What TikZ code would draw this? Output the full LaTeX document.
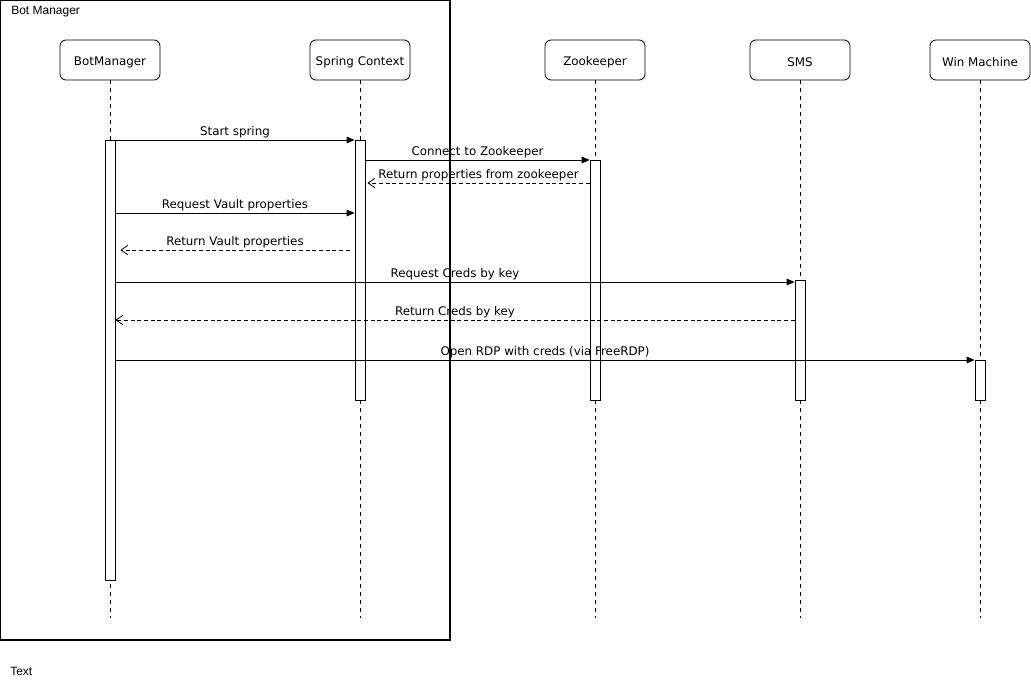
\documentclass[tikz,border=0pt]{standalone}
\usepackage{fontspec}
\setmainfont{DejaVu Sans}
\newfontfamily\arialfont{Liberation Sans}
\usetikzlibrary{arrows.meta}
\tikzset{
  x=0.75pt, y=-0.75pt,
  head/.style={draw, rounded corners=4.5pt, minimum width=75pt, minimum height=30pt, inner sep=0pt, line width=0.6pt},
  headtxt/.style={font=\fontsize{8.9}{10}\selectfont, inner sep=0pt},
  life/.style={dashed, dash pattern=on 3pt off 3pt, line width=0.6pt},
  act/.style={draw, fill=white, line width=0.6pt},
  msg/.style={-{Triangle[length=6pt,width=5pt]}, line width=0.6pt},
  ret/.style={-{Straight Barb[length=5pt,width=7pt]}, dashed, dash pattern=on 3pt off 2pt, line width=0.6pt},
  lbl/.style={font=\fontsize{8.9}{10}\selectfont, inner sep=1pt, above}
}
\begin{document}
\begin{tikzpicture}
\useasboundingbox (0,0) rectangle (1031,681);
\fill[white] (0,0) rectangle (1031,681);
% frame
\draw[line width=0.9pt] (0.6,0.6) rectangle (450,640);
\node[anchor=west, font=\arialfont\fontsize{9}{10}\selectfont, inner sep=0pt] (frame) at (11,12) {Bot Manager};
\node[anchor=west, font=\arialfont\fontsize{9}{10}\selectfont, inner sep=0pt] (txt) at (10,671) {Text};
% heads
\node[head] (bm) at (110,60) {};
\node[head] (sc) at (360,60) {};
\node[head] (zk) at (595,60) {};
\node[head] (sms) at (800,60) {};
\node[head] (win) at (980,60) {};
\node[headtxt] (bmT) at (110,62) {BotManager};
\node[headtxt] (scT) at (360,62) {Spring Context};
\node[headtxt] (zkT) at (595,62) {Zookeeper};
\node[headtxt] (smsT) at (800,62) {SMS};
\node[headtxt] (winT) at (980,62) {Win Machine};
% lifeline ends
\coordinate (bmE) at (110,618);
\coordinate (scE) at (360,618);
\coordinate (zkE) at (595,618);
\coordinate (smsE) at (800,618);
\coordinate (winE) at (980,618);
\draw[life] (bm.south) -- (bmE);
\draw[life] (sc.south) -- (scE);
\draw[life] (zk.south) -- (zkE);
\draw[life] (sms.south) -- (smsE);
\draw[life] (win.south) -- (winE);
% activations
\node[act, minimum width=7.5pt, minimum height=330pt, inner sep=0pt, anchor=north] (bmA) at (110,140) {};
\node[act, minimum width=7.5pt, minimum height=195pt, inner sep=0pt, anchor=north] (scA) at (360,140) {};
\node[act, minimum width=7.5pt, minimum height=180pt, inner sep=0pt, anchor=north] (zkA) at (595,160) {};
\node[act, minimum width=7.5pt, minimum height=90pt, inner sep=0pt, anchor=north] (smsA) at (800,280) {};
\node[act, minimum width=7.5pt, minimum height=30pt, inner sep=0pt, anchor=north] (winA) at (980,360) {};
% messages
\draw[msg] (bmA.north east) -- node[lbl] {Start spring} (scA.north west);
\draw[msg] (scA.east |- 0,160) -- node[lbl] {Connect to Zookeeper} (zkA.north west);
\draw[ret] (zkA.west |- 0,183) -- node[lbl] {Return properties from zookeeper} ([xshift=1.5pt]scA.east |- 0,183);
\draw[msg] (bmA.east |- 0,213) -- node[lbl] {Request Vault properties} (scA.west |- 0,213);
\draw[ret] ([xshift=-3.75pt]scA.west |- 0,250) -- node[lbl] {Return Vault properties} ([xshift=3.75pt]bmA.east |- 0,250);
\draw[msg] (bmA.east |- 0,282) -- node[lbl] {Request Creds by key} (smsA.west |- 0,282);
\draw[ret] (smsA.west |- 0,320) -- node[lbl] {Return Creds by key} (bmA.east |- 0,320);
\draw[msg] (bmA.east |- 0,360) -- node[lbl] {Open RDP with creds (via FreeRDP)} (winA.north west);
\end{tikzpicture}
\end{document}
